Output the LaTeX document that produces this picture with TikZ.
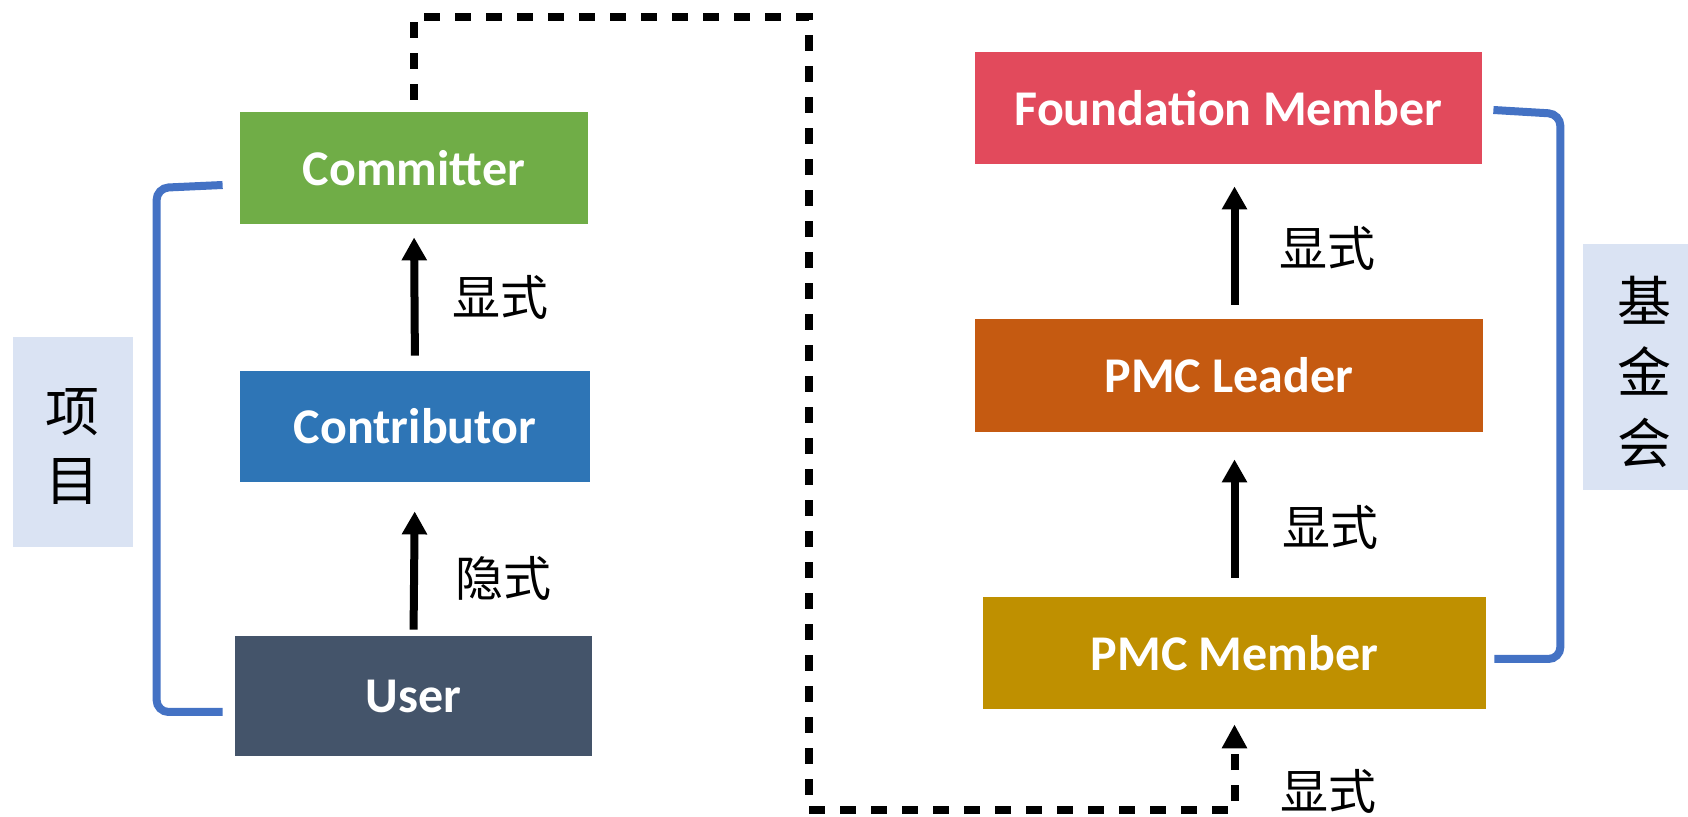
\documentclass[tikz,border=0pt]{standalone}
\usepackage{fontspec}
\setmainfont{Carlito}
\newfontfamily\cjk{Noto Sans CJK SC}
\usetikzlibrary{arrows.meta}
\definecolor{cgreen}{HTML}{70AD47}
\definecolor{cblue}{HTML}{2E75B6}
\definecolor{cslate}{HTML}{44546A}
\definecolor{cred}{HTML}{E24A5C}
\definecolor{corange}{HTML}{C55A11}
\definecolor{cgold}{HTML}{BF9000}
\definecolor{clight}{HTML}{DAE3F3}
\definecolor{cbrk}{HTML}{4472C4}
\begin{document}
\begin{tikzpicture}[x=0.5pt,y=-0.5pt,
  role/.style={draw=none, inner sep=0pt, text=white, font=\bfseries\fontsize{25pt}{30pt}\selectfont},
  lblbox/.style={draw=none, fill=clight, inner sep=0pt},
  vlabel/.style={inner sep=0pt, align=center},
  edgelbl/.style={inner sep=0pt, font=\cjk\fontsize{24pt}{28pt}\selectfont},
  arr/.style={line width=4pt, -{Triangle[width=12pt,length=11.5pt]}},
  darr/.style={line width=4pt, dash pattern=on 8pt off 7.5pt, -{Triangle[width=12pt,length=12pt]}},
  brk/.style={line width=4pt, draw=cbrk, rounded corners=6pt}]
\useasboundingbox (0,0) rectangle (1688,817);

% left side boxes
\node[role, fill=cgreen, minimum width=174pt, minimum height=56pt] (committer) at (414,168) {Committer};
\node[role, fill=cblue, minimum width=175pt, minimum height=55.5pt] (contrib) at (415,426.5) {Contributor};
\node[role, fill=cslate, minimum width=178.5pt, minimum height=60pt] (user) at (413.5,696) {User};

% right side boxes
\node[role, fill=cred, minimum width=253.5pt, minimum height=56pt] (fm) at (1228.5,108) {Foundation Member};
\node[role, fill=corange, minimum width=254pt, minimum height=56.5pt] (pmcl) at (1229,375.5) {PMC Leader};
\node[role, fill=cgold, minimum width=251.5pt, minimum height=56pt] (pmcm) at (1234.5,653) {PMC Member};

% group label boxes
\node[lblbox, minimum width=60pt, minimum height=105pt] (projbox) at (73,442) {};
\node[vlabel, font=\cjk\fontsize{27pt}{34.5pt}\selectfont] (proj) at (73,447) {项\\目};
\node[lblbox, minimum width=52.5pt, minimum height=123pt] (fundbox) at (1635.5,367) {};
\node[vlabel, font=\cjk\fontsize{27pt}{35.5pt}\selectfont] (fund) at (1644,372) {基\\金\\会};

% brackets
\draw[brk] ([shift={(-17,17)}]committer.west) -- ++(-66,3) |- ([shift={(-12,16)}]user.west);
\draw[brk] ([shift={(11,2)}]fm.east) -- ++(67,4) |- ([shift={(8,6)}]pmcm.east);

% arrows
\draw[arr, shorten <=7.5pt, shorten >=6.5pt] (contrib.north) -- (committer.south);
\draw[arr, shorten <=3pt, shorten >=14.5pt] (user.north) -- (contrib.south);
\draw[arr, shorten <=9.5pt, shorten >=13.5pt] (pmcm.north) -- (pmcm.north |- pmcl.south);
\draw[arr, shorten <=7pt, shorten >=11pt] (pmcm.north |- pmcl.north) -- (pmcm.north |- fm.south);

% dashed connector
\coordinate (dtop) at (809,17);
\coordinate (dbot) at (809,810);
\draw[darr, shorten <=6pt, shorten >=7.5pt] (committer.north) |- (dtop) -- (dbot) -| (pmcm.south);

% edge labels
\node[edgelbl] (l1) at (500,297) {显式};
\node[edgelbl] (l2) at (503,578) {隐式};
\node[edgelbl] (l3) at (1327,248) {显式};
\node[edgelbl] (l4) at (1330,527) {显式};
\node[edgelbl] (l5) at (1328,791) {显式};
\end{tikzpicture}
\end{document}
